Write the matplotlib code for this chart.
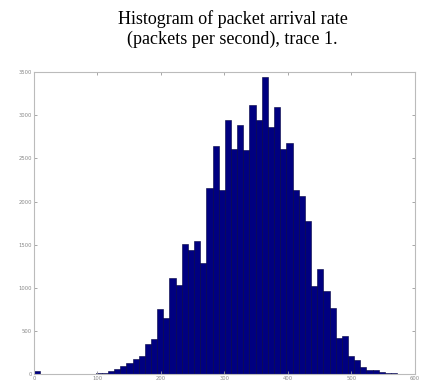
import numpy as np
import matplotlib
matplotlib.use("Agg")
import matplotlib.pyplot as plt

# histogram of packet arrival rate, 60 bins from 0 to ~582
bin_width = 9.7
counts = [35, 0, 0, 0, 0, 0, 0, 0, 0, 5,
          8, 15, 35, 60, 90, 125, 170, 210, 350, 405,
          750, 645, 1110, 1035, 1506, 1437, 1545, 1286, 2159, 2642,
          2132, 2950, 2610, 2890, 2600, 3125, 2950, 3445, 2865, 3100,
          2605, 2680, 2130, 2060, 1777, 1020, 1213, 962, 768, 413,
          444, 212, 162, 77, 45, 45, 20, 15, 10, 5]
xticks = [0, 100, 200, 300, 400, 500, 600]
yticks = [0, 500, 1000, 1500, 2000, 2500, 3000, 3500]
title = "Histogram of packet arrival rate\n(packets per second), trace 1."

edges = np.arange(len(counts)) * bin_width

fig = plt.figure(figsize=(4.22, 3.88), dpi=100)
ax = fig.add_axes([0.0806, 0.036, 0.9024, 0.778])

ax.bar(edges, counts, width=bin_width, align='edge',
       color='#000080', edgecolor='#000040', linewidth=0.4)

ax.set_xlim(0, 600)
ax.set_ylim(0, 3500)
ax.set_xticks(xticks)
ax.set_yticks(yticks)
ax.tick_params(direction='in', top=True, right=True, length=2, width=0.6,
               labelsize=3.8, labelcolor='#888888', color='#999999', pad=1.5)
for s in ax.spines.values():
    s.set_color('#bbbbbb')
    s.set_linewidth(0.8)

fig.text(0.551, 0.925, title, ha='center', va='center',
         family='Liberation Serif', fontsize=13, linespacing=1.2)

fig.savefig("out.png", dpi=100)
